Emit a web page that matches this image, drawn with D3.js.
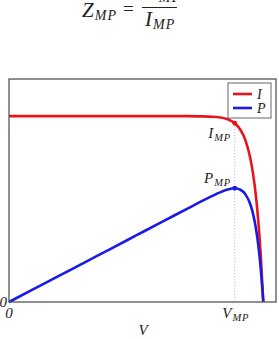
<!DOCTYPE html>
<html>
<head>
<meta charset="utf-8">
<script src="https://cdn.jsdelivr.net/npm/d3@7"></script>
<style>
  html, body { margin: 0; padding: 0; background: #fff; }
  svg { display: block; }
  text { font-family: "Liberation Serif", "DejaVu Serif", serif; font-style: italic; fill: #222; }
</style>
</head>
<body>
<svg id="chart" width="279" height="339"></svg>
<script>
// ---- data (arbitrary units) ----
const voltage = [0, 0.1, 0.2, 0.3, 0.4, 0.5, 0.6, 0.7, 0.75, 0.8, 0.83, 0.86, 0.888, 0.91, 0.93, 0.95, 0.96, 0.97, 0.98, 0.99, 1.0];
const current = [1, 1, 1, 1, 1, 1, 1, 1, 0.999, 0.997, 0.993, 0.983, 0.962, 0.927, 0.870, 0.767, 0.688, 0.583, 0.442, 0.252, 0];
const power   = [0, 0.0716, 0.143, 0.215, 0.286, 0.358, 0.430, 0.501, 0.537, 0.571, 0.590, 0.605, 0.612, 0.604, 0.579, 0.522, 0.473, 0.405, 0.310, 0.179, 0];
const mpIndex = 12;
const xTickValues = [0, 0.888];
const xTickLabels = [["0", ""], ["V", "MP"]];
const legendLabels = ["I", "P"];
const seriesColors = ["#e8141a", "#1a1ae6"];

// ---- layout ----
const svg = d3.select("#chart");
const L = 9, R = 276, T = 79, B = 302;
const x = d3.scaleLinear().domain([0, 1.05]).range([L, R]);
const y = d3.scaleLinear().domain([0, 1.2]).range([B, T]);

function sublabel(parent, xx, yy, main, sub, anchor, size, subSize, subDy, ls) {
  const t = parent.append("text").attr("x", xx).attr("y", yy).attr("text-anchor", anchor).style("font-size", size + "px");
  t.append("tspan").text(main);
  if (sub) t.append("tspan").attr("dx", 1).attr("dy", subDy).style("font-size", subSize + "px")
    .style("letter-spacing", ls + "px").text(sub);
  return t;
}

// title: Z_MP = V_MP / I_MP (numerator clipped at top, as in the reference)
const title = svg.append("g");
sublabel(title, 82, 17, "Z", "MP", "start", 21, 14, 3, 1.2);
title.append("text").attr("x", 123).attr("y", 15).style("font-style", "normal").style("font-size", "19px").text("=");
title.append("line").attr("x1", 142).attr("x2", 177).attr("y1", 7.5).attr("y2", 7.5)
  .attr("stroke", "#222").attr("stroke-width", 1);
sublabel(title, 145, -1, "V", "MP", "start", 21, 14, 3, 1.2);
sublabel(title, 145, 26, "I", "MP", "start", 21, 14, 3, 1.2);

// dotted guide
svg.append("line")
  .attr("x1", x(voltage[mpIndex])).attr("x2", x(voltage[mpIndex]))
  .attr("y1", y(current[mpIndex])).attr("y2", B)
  .attr("stroke", "#aaa").attr("stroke-width", 1).attr("stroke-dasharray", "1,2");

// lines
const lineGen = d3.line().x((d, i) => x(voltage[i])).y(d => y(d)).curve(d3.curveMonotoneX);
svg.append("path").datum(current).attr("d", lineGen)
  .attr("fill", "none").attr("stroke", seriesColors[0]).attr("stroke-width", 2.6);
svg.append("path").datum(power).attr("d", lineGen)
  .attr("fill", "none").attr("stroke", seriesColors[1]).attr("stroke-width", 2.6);

// markers
svg.append("circle").attr("cx", x(voltage[mpIndex])).attr("cy", y(current[mpIndex])).attr("r", 2.4).attr("fill", seriesColors[0]);
svg.append("circle").attr("cx", x(voltage[mpIndex])).attr("cy", y(power[mpIndex])).attr("r", 2.4).attr("fill", seriesColors[1]);

// point labels
sublabel(svg, 231, 138, "I", "MP", "end", 15, 10.5, 2.5, 0.8);
sublabel(svg, 231, 183, "P", "MP", "end", 15, 10.5, 2.5, 0.8);

// frame
svg.append("rect").attr("x", L).attr("y", T).attr("width", R - L).attr("height", B - T)
  .attr("fill", "none").attr("stroke", "#555").attr("stroke-width", 1.3);

// x axis (tick labels only)
const xAxis = d3.axisBottom(x).tickValues(xTickValues).tickSize(0).tickFormat(() => "");
const gx = svg.append("g").attr("transform", `translate(0,${B})`).call(xAxis);
gx.select(".domain").remove();
xTickValues.forEach((v, i) => {
  sublabel(svg, x(v) + (i === 0 ? 0 : 1), 318, xTickLabels[i][0], xTickLabels[i][1], "middle", 15, 10.5, 2.5, 0.8);
});
// y axis tick label
const yAxis = d3.axisLeft(y).tickValues([0]).tickSize(0).tickFormat(() => "");
const gy = svg.append("g").attr("transform", `translate(${L},0)`).call(yAxis);
gy.select(".domain").remove();
svg.append("text").attr("x", 7).attr("y", y(0) + 5).attr("text-anchor", "end").style("font-size", "15px").text("0");

// axis title
svg.append("text").attr("x", 143).attr("y", 335).attr("text-anchor", "middle").style("font-size", "15px").text("V");

// legend
const lg = svg.append("g");
lg.append("rect").attr("x", 228).attr("y", 83).attr("width", 43).attr("height", 35)
  .attr("fill", "#fff").attr("stroke", "#666").attr("stroke-width", 1);
legendLabels.forEach((lab, i) => {
  const yy = 94 + i * 14;
  lg.append("line").attr("x1", 233).attr("x2", 252).attr("y1", yy).attr("y2", yy)
    .attr("stroke", seriesColors[i]).attr("stroke-width", 2.6);
  lg.append("text").attr("x", 257).attr("y", yy + 4.5).style("font-size", "14px").text(lab);
});
</script>
</body>
</html>
